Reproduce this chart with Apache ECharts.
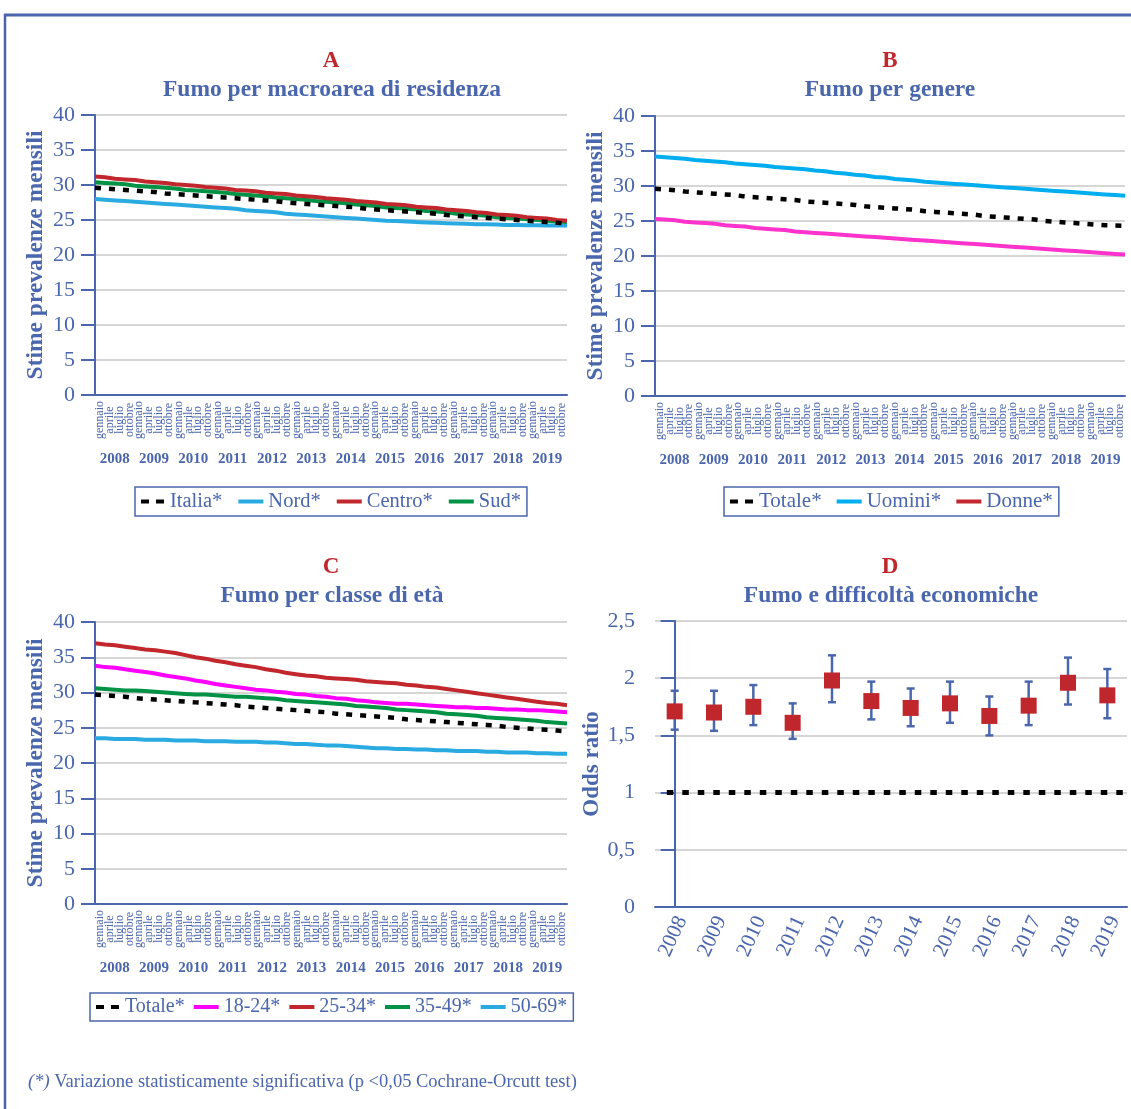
<!DOCTYPE html>
<html><head><meta charset="utf-8">
<script src="https://cdn.jsdelivr.net/npm/echarts@6/dist/echarts.min.js"></script>
<style>html,body{margin:0;padding:0;background:#fff}#c{width:1131px;height:1109px}</style>
</head><body><div id="c"></div>
<script>
const years = ['2008','2009','2010','2011','2012','2013','2014','2015','2016','2017','2018','2019'];
const months = ['gennaio','aprile','luglio','ottobre'];

// Panel A
const italia = [29.6,29.5,29.4,29.3, 29.2,29.1,29.0,28.8, 28.7,28.6,28.5,28.4, 28.3,28.2,28.1,28.0, 27.9,27.8,27.7,27.5, 27.4,27.3,27.2,27.1, 27.0,26.9,26.8,26.6, 26.5,26.4,26.3,26.2, 26.1,26.0,25.9,25.7, 25.6,25.5,25.4,25.3, 25.2,25.1,25.0,24.9, 24.8,24.7,24.6,24.5];
const nord = [28.0,27.9,27.8,27.7, 27.6,27.5,27.4,27.3, 27.2,27.1,27.0,26.9, 26.8,26.7,26.6,26.4, 26.3,26.2,26.1,25.9, 25.8,25.7,25.6,25.5, 25.4,25.3,25.2,25.1, 25.0,24.9,24.85,24.8, 24.7,24.65,24.6,24.55, 24.5,24.45,24.4,24.4, 24.35,24.3,24.3,24.25, 24.25,24.2,24.2,24.2];
const centro = [31.2,31.1,30.9,30.8, 30.7,30.5,30.4,30.3, 30.1,30.0,29.9,29.7, 29.6,29.5,29.3,29.2, 29.1,28.9,28.8,28.7, 28.5,28.4,28.3,28.1, 28.0,27.9,27.7,27.6, 27.5,27.3,27.2,27.1, 26.9,26.8,26.7,26.5, 26.4,26.3,26.1,26.0, 25.8,25.7,25.6,25.4, 25.3,25.2,25.0,24.9];
const sud = [30.4,30.3,30.2,30.1, 29.9,29.8,29.7,29.6, 29.5,29.3,29.2,29.1, 29.0,28.9,28.7,28.6, 28.5,28.4,28.2,28.1, 28.0,27.9,27.7,27.6, 27.5,27.4,27.2,27.1, 27.0,26.8,26.7,26.6, 26.5,26.3,26.2,26.1, 25.9,25.8,25.7,25.6, 25.4,25.3,25.2,25.1, 25.0,24.9,24.8,24.7];

// Panel B
const totaleB = [29.6,29.5,29.4,29.2, 29.1,29.0,28.9,28.8, 28.7,28.5,28.4,28.3, 28.2,28.1,28.0,27.8, 27.7,27.6,27.5,27.4, 27.3,27.1,27.0,26.9, 26.8,26.7,26.6,26.4, 26.3,26.2,26.1,26.0, 25.9,25.7,25.6,25.5, 25.4,25.3,25.2,25.0, 24.9,24.8,24.7,24.6, 24.5,24.4,24.35,24.3];
const uomini = [34.2,34.1,34.0,33.9, 33.7,33.6,33.5,33.4, 33.2,33.1,33.0,32.9, 32.7,32.6,32.5,32.4, 32.2,32.1,31.9,31.8, 31.6,31.5,31.3,31.2, 31.0,30.9,30.8,30.6, 30.5,30.4,30.3,30.2, 30.1,30.0,29.9,29.8, 29.7,29.6,29.5,29.4, 29.3,29.2,29.1,29.0, 28.9,28.8,28.7,28.6];
const donne = [25.3,25.2,25.1,24.9, 24.8,24.7,24.6,24.4, 24.3,24.2,24.0,23.9, 23.8,23.7,23.5,23.4, 23.3,23.2,23.1,23.0, 22.9,22.8,22.7,22.6, 22.5,22.4,22.3,22.2, 22.1,22.0,21.9,21.8, 21.7,21.6,21.5,21.4, 21.3,21.2,21.1,21.0, 20.9,20.8,20.7,20.6, 20.5,20.4,20.3,20.2];

// Panel C
const totaleC = [29.7,29.6,29.5,29.4, 29.2,29.1,29.0,28.9, 28.8,28.7,28.6,28.5, 28.4,28.3,28.2,28.0, 27.9,27.8,27.7,27.6, 27.5,27.4,27.3,27.2, 27.0,26.9,26.8,26.7, 26.6,26.5,26.4,26.2, 26.1,26.0,25.9,25.8, 25.7,25.6,25.5,25.4, 25.3,25.1,25.0,24.9, 24.8,24.7,24.6,24.5];
const eta1824 = [33.8,33.6,33.5,33.3, 33.1,32.9,32.7,32.4, 32.2,32.0,31.7,31.5, 31.2,31.0,30.8,30.6, 30.4,30.3,30.1,30.0, 29.8,29.7,29.5,29.4, 29.2,29.1,28.9,28.8, 28.6,28.5,28.4,28.4, 28.3,28.2,28.1,28.0, 27.9,27.9,27.8,27.8, 27.7,27.6,27.6,27.5, 27.5,27.4,27.3,27.2];
const eta2534 = [37.0,36.8,36.7,36.5, 36.3,36.1,36.0,35.8, 35.6,35.3,35.0,34.8, 34.5,34.3,34.0,33.8, 33.6,33.3,33.1,32.8, 32.6,32.4,32.3,32.1, 32.0,31.9,31.8,31.6, 31.5,31.4,31.3,31.1, 31.0,30.8,30.7,30.5, 30.3,30.1,29.9,29.7, 29.5,29.3,29.1,28.9, 28.7,28.5,28.4,28.2];
const eta3549 = [30.6,30.5,30.4,30.3, 30.3,30.2,30.1,30.0, 29.9,29.8,29.7,29.7, 29.6,29.5,29.4,29.4, 29.3,29.2,29.1,28.9, 28.8,28.7,28.6,28.5, 28.4,28.3,28.1,28.0, 27.9,27.8,27.6,27.5, 27.4,27.3,27.2,27.0, 26.9,26.8,26.7,26.5, 26.4,26.3,26.2,26.1, 26.0,25.8,25.7,25.6];
const eta5069 = [23.5,23.5,23.4,23.4, 23.4,23.3,23.3,23.3, 23.2,23.2,23.2,23.1, 23.1,23.1,23.0,23.0, 23.0,22.9,22.9,22.8, 22.7,22.7,22.6,22.5, 22.5,22.4,22.3,22.2, 22.1,22.1,22.0,22.0, 21.9,21.9,21.8,21.8, 21.7,21.7,21.7,21.6, 21.6,21.5,21.5,21.5, 21.4,21.4,21.3,21.3];

// Panel D
const oddsRatio = [1.71,1.70,1.75,1.61,1.98,1.80,1.74,1.78,1.67,1.76,1.96,1.85];
const ciLow =     [1.55,1.54,1.59,1.47,1.79,1.64,1.58,1.61,1.50,1.59,1.77,1.65];
const ciHigh =    [1.89,1.89,1.94,1.78,2.20,1.97,1.91,1.97,1.84,1.97,2.18,2.08];
const refValue = 1;
const refSpan = [-0.2, 11.5];

const categories = [];
years.forEach(y => months.forEach(m => categories.push(m + ' ' + y)));

const FONT = "'Liberation Serif','Times New Roman',serif";
const BLUE = '#4a66ac';
const RED = '#c0272d';
const GRID = '#c8c8c8';

const grids = [
  {left:95, top:115, width:472, height:280},
  {left:655, top:116, width:470, height:280},
  {left:95, top:622, width:472, height:282},
  {left:655, top:621, width:472, height:286}
];

const xAxis = [];
function addMonthAxes(g){
  const dataIdx = xAxis.length;
  xAxis.push({gridIndex:g, type:'category', data:categories, boundaryGap:false, show:false});
  xAxis.push({gridIndex:g, type:'category', data:categories, boundaryGap:true, position:'bottom',
    axisLine:{lineStyle:{color:BLUE,width:2}},
    axisTick:{interval:0,length:8,lineStyle:{color:BLUE,width:1.2}},
    axisLabel:{interval:0, rotate:90, fontSize:12, fontFamily:FONT, color:BLUE, margin:25, align:'center',
      formatter: v => v.split(' ')[0]},
    splitLine:{show:false}});
  xAxis.push({gridIndex:g, type:'category', data:years, boundaryGap:true, position:'bottom',
    axisLine:{show:false},
    axisTick:{interval:0,length:75,lineStyle:{color:BLUE,width:1.2}},
    axisLabel:{interval:0, fontSize:15, fontWeight:'bold', fontFamily:FONT, color:BLUE, margin:57},
    splitLine:{show:false}});
  return dataIdx;
}
const xa = addMonthAxes(0), xb = addMonthAxes(1), xc = addMonthAxes(2);
const xdCat = xAxis.length;
xAxis.push({gridIndex:3, type:'category', data:years, boundaryGap:true, position:'bottom',
  axisLine:{lineStyle:{color:BLUE,width:2}},
  axisTick:{interval:0,length:15,lineStyle:{color:BLUE,width:2}},
  axisLabel:{interval:0, rotate:65, fontSize:21, lineHeight:16, verticalAlign:'top', fontFamily:FONT, color:BLUE, margin:7}});
const xdVal = xAxis.length;
xAxis.push({gridIndex:3, type:'value', min:-0.5, max:11.5, show:false});

function prevAxis(g){
  return {gridIndex:g, type:'value', min:0, max:40, interval:5,
    name:'Stime prevalenze mensili', nameLocation:'middle', nameGap:47,
    nameTextStyle:{fontFamily:FONT, fontSize:23.5, fontWeight:'bold', color:BLUE},
    axisLine:{show:true, lineStyle:{color:BLUE,width:2}},
    axisTick:{show:true, length:14, lineStyle:{color:BLUE,width:2}},
    axisLabel:{fontFamily:FONT, fontSize:22, color:BLUE, margin:20},
    splitLine:{lineStyle:{color:GRID,width:1.5}}};
}
const yAxis = [prevAxis(0), prevAxis(1), prevAxis(2), {
  gridIndex:3, type:'value', min:0, max:2.5, interval:0.5,
  name:'Odds ratio', nameLocation:'middle', nameGap:38,
  nameTextStyle:{fontFamily:FONT, fontSize:23, fontWeight:'bold', color:BLUE},
  axisLine:{show:true, lineStyle:{color:BLUE,width:2}},
  axisTick:{show:true, length:14, lineStyle:{color:BLUE,width:2}},
  axisLabel:{fontFamily:FONT, fontSize:22, color:BLUE, margin:20, formatter: v => String(v).replace('.', ',')},
  splitLine:{lineStyle:{color:GRID,width:1.5}}
}];

function lineSeries(name, data, xi, yi, color, dashed){
  return {name, type:'line', data, xAxisIndex:xi, yAxisIndex:yi, symbol:'none', showSymbol:false,
    itemStyle:{color}, lineStyle:{color, width: dashed?4.5:4, type: dashed?[6,8]:'solid', cap:'butt'},
    emphasis:{disabled:true}, z: dashed?5:3};
}

const series = [
  lineSeries('Nord*', nord, xa, 0, '#29abe2'),
  lineSeries('Sud*', sud, xa, 0, '#009245'),
  lineSeries('Centro*', centro, xa, 0, '#c1272d'),
  lineSeries('Italia*', italia, xa, 0, '#000', true),
  lineSeries('Uomini*', uomini, xb, 1, '#00aeef'),
  lineSeries('Donne*', donne, xb, 1, '#ff33cc'),
  lineSeries('Totale*', totaleB, xb, 1, '#000', true),
  lineSeries('50-69*', eta5069, xc, 2, '#29abe2'),
  lineSeries('35-49*', eta3549, xc, 2, '#009245'),
  lineSeries('18-24*', eta1824, xc, 2, '#ff00ff'),
  lineSeries('25-34*', eta2534, xc, 2, '#c1272d'),
  lineSeries('Totale*', totaleC, xc, 2, '#000', true),
  {name:'ref', type:'line', xAxisIndex:xdVal, yAxisIndex:3, symbol:'none',
    data:[[refSpan[0], refValue],[refSpan[1], refValue]],
    lineStyle:{color:'#000', width:5, type:[6.5,9], cap:'butt'}, z:2},
  {name:'ci', type:'custom', xAxisIndex:xdCat, yAxisIndex:3, z:3,
    data: years.map((y,i) => [i, ciLow[i], ciHigh[i]]),
    renderItem: (params, api) => {
      const lo = api.coord([api.value(0), api.value(1)]);
      const hi = api.coord([api.value(0), api.value(2)]);
      const w = 4;
      const st = {stroke:BLUE, lineWidth:2.5};
      return {type:'group', children:[
        {type:'line', shape:{x1:lo[0],y1:lo[1],x2:hi[0],y2:hi[1]}, style:st},
        {type:'line', shape:{x1:lo[0]-w,y1:lo[1],x2:lo[0]+w,y2:lo[1]}, style:st},
        {type:'line', shape:{x1:hi[0]-w,y1:hi[1],x2:hi[0]+w,y2:hi[1]}, style:st}
      ]};
    }},
  {name:'OR', type:'scatter', xAxisIndex:xdCat, yAxisIndex:3, data:oddsRatio, symbol:'rect', symbolSize:16,
    itemStyle:{color:RED, opacity:1}, z:4}
];

const ICON_SOLID = 'path://M0,0h25v4h-25z';
const ICON_DASH = 'path://M0,0h8v4h-8zM15,0h8v4h-8z';
function legend(left, top, gap, fs, data){
  return {left, top, orient:'horizontal', borderColor:BLUE, borderWidth:1.5, padding:[4,6],
    itemGap:gap, itemWidth:25, itemHeight:4, selectedMode:false, icon:ICON_SOLID,
    textStyle:{fontFamily:FONT, fontSize:fs, color:BLUE}, data};
}
const dashItem = name => ({name, icon:ICON_DASH});

const titleFont = s => `bold ${s}px ${FONT}`;
const graphic = [
  {type:'line', shape:{x1:4,y1:15,x2:1131,y2:15}, style:{stroke:BLUE, lineWidth:3}},
  {type:'line', shape:{x1:5,y1:14,x2:5,y2:1109}, style:{stroke:BLUE, lineWidth:2.5}},
  {type:'text', x:331, y:61, style:{text:'A', font:titleFont(23), fill:RED, textAlign:'center', textVerticalAlign:'middle'}},
  {type:'text', x:332, y:90, style:{text:'Fumo per macroarea di residenza', font:titleFont(23.5), fill:BLUE, textAlign:'center', textVerticalAlign:'middle'}},
  {type:'text', x:890, y:61, style:{text:'B', font:titleFont(23), fill:RED, textAlign:'center', textVerticalAlign:'middle'}},
  {type:'text', x:890, y:90, style:{text:'Fumo per genere', font:titleFont(23.5), fill:BLUE, textAlign:'center', textVerticalAlign:'middle'}},
  {type:'text', x:331, y:567, style:{text:'C', font:titleFont(23), fill:RED, textAlign:'center', textVerticalAlign:'middle'}},
  {type:'text', x:332, y:596, style:{text:'Fumo per classe di età', font:titleFont(23.5), fill:BLUE, textAlign:'center', textVerticalAlign:'middle'}},
  {type:'text', x:890, y:567, style:{text:'D', font:titleFont(23), fill:RED, textAlign:'center', textVerticalAlign:'middle'}},
  {type:'text', x:891, y:596, style:{text:'Fumo e difficoltà economiche', font:titleFont(23.5), fill:BLUE, textAlign:'center', textVerticalAlign:'middle'}},
  {type:'text', x:28, y:1082, style:{text:'{i|(*)} Variazione statisticamente significativa (p <0,05 Cochrane-Orcutt test)',
    font:`18.5px ${FONT}`, fill:BLUE, textVerticalAlign:'middle',
    rich:{i:{fontStyle:'italic', fontFamily:FONT, fontSize:18.5, fill:BLUE, color:BLUE}}}}
];

const chart = echarts.init(document.getElementById('c'), null, {renderer:'canvas'});
chart.setOption({
  animation:false,
  backgroundColor:'#fff',
  textStyle:{fontFamily:FONT},
  grid: grids,
  xAxis, yAxis, series, graphic,
  legend: [
    legend(135, 487, 16, 20.5, [dashItem('Italia*'),'Nord*','Centro*','Sud*']),
    legend(724, 487, 15, 21, [dashItem('Totale*'),'Uomini*',{name:'Donne*', itemStyle:{color:'#c1272d'}}]),
    legend(90, 993, 9, 20, [dashItem('Totale*'),'18-24*','25-34*','35-49*','50-69*'])
  ]
});
</script></body></html>
